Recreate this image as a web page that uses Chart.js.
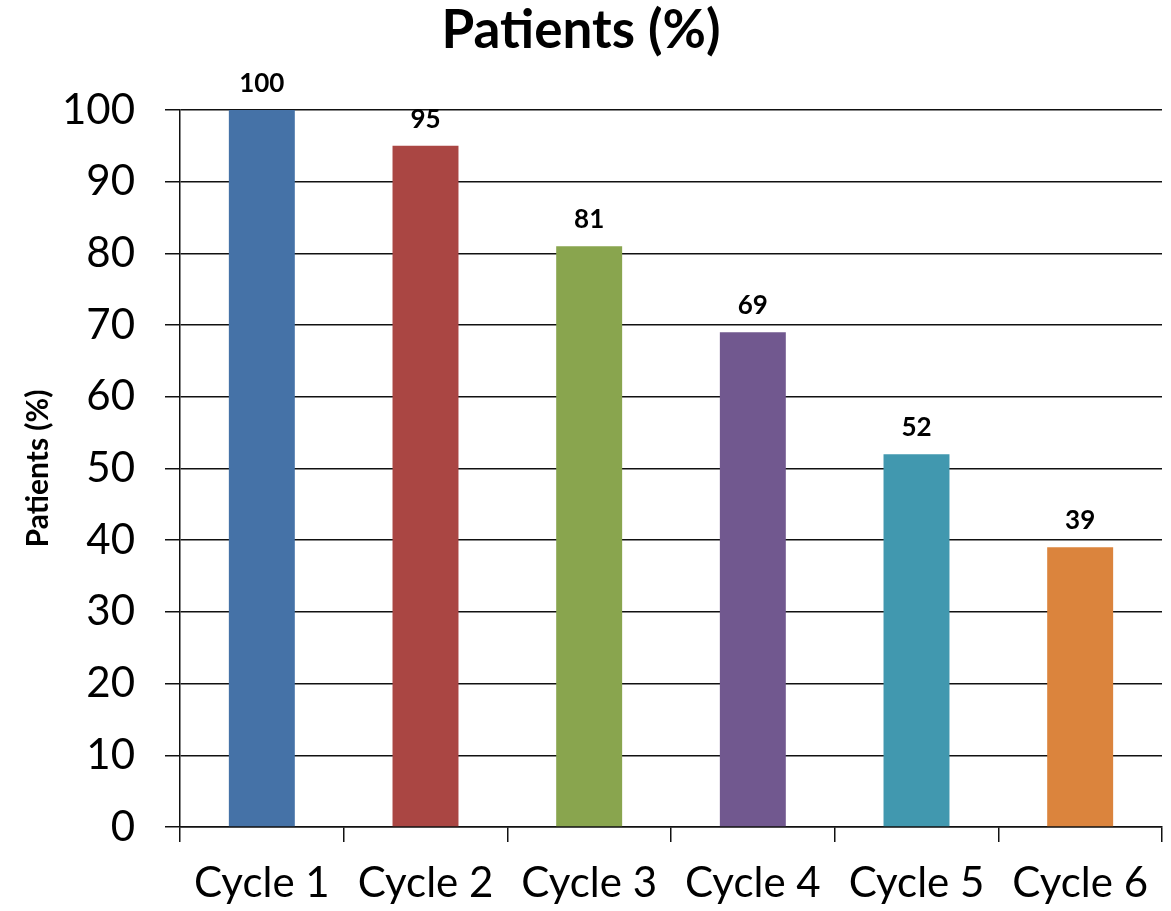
<!DOCTYPE html>
<html>
<head>
<meta charset="utf-8">
<script src="https://cdn.jsdelivr.net/npm/chart.js@4/dist/chart.umd.min.js"></script>
<style>
  html, body { margin: 0; padding: 0; background: #fff; }
  #wrap { width: 1171px; height: 911px; }
</style>
</head>
<body>
<div id="wrap"><canvas id="c" width="1171" height="911"></canvas></div>
<script>
// Share of patients still on treatment at each cycle
const categories = ['Cycle 1', 'Cycle 2', 'Cycle 3', 'Cycle 4', 'Cycle 5', 'Cycle 6'];
const patientsPct = [100, 95, 81, 69, 52, 39];
const barColors = ['#4572A7', '#AA4643', '#89A54E', '#71588F', '#4198AF', '#DB843D'];
const yTicks = [0, 10, 20, 30, 40, 50, 60, 70, 80, 90, 100];

const FONT = 'Lato, "Open Sans", sans-serif';

// Bold value written above each bar
const valueLabels = {
  id: 'valueLabels',
  afterDatasetsDraw(chart) {
    const ctx = chart.ctx;
    const meta = chart.getDatasetMeta(0);
    ctx.save();
    ctx.font = 'bold 26px ' + FONT;
    ctx.fillStyle = '#000';
    ctx.textAlign = 'center';
    ctx.textBaseline = 'alphabetic';
    meta.data.forEach((bar, i) => {
      ctx.fillText(String(patientsPct[i]), bar.x, bar.y - 18);
    });
    ctx.restore();
  }
};

new Chart(document.getElementById('c'), {
  type: 'bar',
  data: {
    labels: categories,
    datasets: [{
      label: 'Patients (%)',
      data: patientsPct,
      backgroundColor: barColors,
      borderWidth: 0,
      categoryPercentage: 1,
      barPercentage: 0.403
    }]
  },
  options: {
    responsive: false,
    animation: false,
    devicePixelRatio: 1,
    layout: { padding: { top: 0, right: 9, bottom: 0, left: 0 } },
    plugins: {
      legend: { display: false },
      tooltip: { enabled: false },
      title: {
        display: true,
        text: 'Patients (%)',
        color: '#000',
        font: { family: FONT, size: 53, weight: 'bold', lineHeight: 1.1 },
        padding: { top: 2, bottom: 49.7 }
      }
    },
    scales: {
      x: {
        offset: true,
        grid: {
          offset: true,
          drawOnChartArea: false,
          drawTicks: true,
          tickLength: 15,
          color: '#111',
          lineWidth: 1.5
        },
        border: { display: true, color: '#111', width: 1.5 },
        ticks: {
          color: '#000',
          font: { family: FONT, size: 42 },
          padding: 16,
          maxRotation: 0,
          autoSkip: false
        },
        afterFit(scale) { scale.height = 84; }
      },
      y: {
        min: 0,
        max: 100,
        afterBuildTicks(scale) { scale.ticks = yTicks.map(v => ({ value: v })); },
        grid: {
          drawOnChartArea: true,
          drawTicks: true,
          tickLength: 15,
          color: '#111',
          lineWidth: 1.5
        },
        border: { display: true, color: '#111', width: 1.5 },
        ticks: {
          color: '#000',
          font: { family: FONT, size: 42 },
          padding: 30
        },
        title: {
          display: true,
          text: 'Patients (%)',
          color: '#000',
          font: { family: FONT, size: 30, weight: 'bold' },
          padding: { top: 20, bottom: 0 }
        },
        afterFit(scale) { scale.width = 180; }
      }
    }
  },
  plugins: [valueLabels]
});
</script>
</body>
</html>
